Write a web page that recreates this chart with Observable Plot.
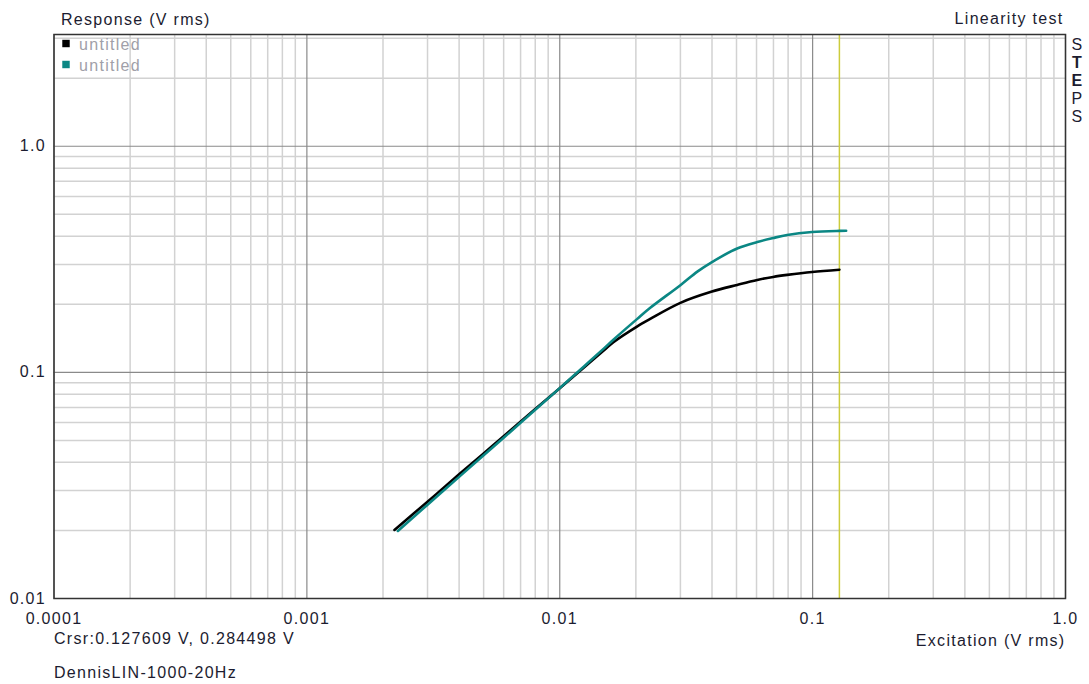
<!DOCTYPE html>
<html>
<head>
<meta charset="utf-8">
<script src="https://cdn.jsdelivr.net/npm/d3@7"></script>
<script src="https://cdn.jsdelivr.net/npm/@observablehq/plot@0.6"></script>
<style>
  html, body { margin: 0; padding: 0; background: #fff; }
  #chart svg { display: block; }
</style>
</head>
<body>
<div id="chart"></div>
<script>
// ---- data ----
const blackX = [0.00222, 0.003, 0.004, 0.005, 0.006, 0.008, 0.010, 0.0125, 0.015, 0.0163, 0.0202, 0.0228, 0.0300, 0.0397, 0.0503, 0.0604, 0.0698, 0.0793, 0.0995, 0.1276];
const blackY = [0.0201, 0.0268, 0.0354, 0.0438, 0.0522, 0.0688, 0.085, 0.1053, 0.1255, 0.136, 0.1595, 0.1725, 0.203, 0.227, 0.2437, 0.2564, 0.2643, 0.2698, 0.2781, 0.2845];
const tealX  = [0.00229, 0.003, 0.004, 0.005, 0.006, 0.008, 0.010, 0.0125, 0.015, 0.0163, 0.0202, 0.0228, 0.0300, 0.0350, 0.0397, 0.0503, 0.0604, 0.0698, 0.0793, 0.0995, 0.1276, 0.1357];
const tealY  = [0.0199, 0.0260, 0.0345, 0.0430, 0.0514, 0.0683, 0.0852, 0.1065, 0.128, 0.1395, 0.172, 0.193, 0.243, 0.279, 0.306, 0.353, 0.3771, 0.3927, 0.405, 0.4175, 0.4225, 0.423];
const seriesNames = ["untitled", "untitled"];
const seriesColors = ["#000000", "#0b8784"];
const cursorX = 0.127609;
const cursorY = 0.284498;

const xTickValues = [0.0001, 0.001, 0.01, 0.1, 1];
const xTickLabels = ["0.0001", "0.001", "0.01", "0.1", "1.0"];
const yTickValues = [0.01, 0.1, 1];
const yTickLabels = ["0.01", "0.1", "1.0"];

const title = "Linearity test";
const yTitle = "Response (V rms)";
const xTitle = "Excitation (V rms)";
const cursorText = "Crsr:0.127609 V, 0.284498 V";
const fileText = "DennisLIN-1000-20Hz";
const sideLetters = ["S", "T", "E", "P", "S"];

// ---- grid ticks ----
function minorTicks(lo, hi) {
  const out = [];
  for (let d = lo; d < hi * 0.999; d *= 10)
    for (let k = 2; k <= 9; k++) out.push(d * k);
  return out;
}
const xMinor = minorTicks(0.0001, 1);
const yMinor = minorTicks(0.01, 10).filter(v => v <= 3.05);

const black = blackX.map((x, i) => ({x, y: blackY[i]}));
const teal = tealX.map((x, i) => ({x, y: tealY[i]}));

const xLabelOf = new Map(xTickValues.map((v, i) => [v, xTickLabels[i]]));
const yLabelOf = new Map(yTickValues.map((v, i) => [v, yTickLabels[i]]));

const font = "'Liberation Sans', Arial, sans-serif";
const txt = "#1c1c30";
const fs = 16;

const letterMarks = sideLetters.map((s, i) =>
  Plot.text([s], {frameAnchor: "top-right", dx: 12, dy: 10 + i * 18.2, textAnchor: "middle", lineAnchor: "middle", fill: txt, fontSize: fs, fontWeight: (i === 1 || i === 2) ? "bold" : "normal"})
);
const legendMarks = seriesNames.flatMap((name, i) => [
  Plot.dot([name], {frameAnchor: "top-left", dx: 12, dy: 9 + i * 21, symbol: "square", r: 4.2, fill: seriesColors[i], stroke: null}),
  Plot.text([name], {frameAnchor: "top-left", dx: 25, dy: 10 + i * 21, textAnchor: "start", lineAnchor: "middle", fill: "#a0a0a8", fontSize: fs})
]);

const plot = Plot.plot({
  width: 1089,
  height: 684,
  marginLeft: 53.5,
  marginRight: 24,
  marginTop: 34,
  marginBottom: 86,
  style: {fontFamily: font, fontSize: fs + "px", background: "#fff", letterSpacing: "1.3px"},
  x: {type: "log", domain: [0.0001, 1]},
  y: {type: "log", domain: [0.01, 3.12]},
  marks: [
    Plot.ruleX(xMinor, {stroke: "#d2d2d2", strokeWidth: 1.5}),
    Plot.ruleY(yMinor, {stroke: "#d2d2d2", strokeWidth: 1.5}),
    Plot.ruleX(xTickValues, {stroke: "#8a8a8a", strokeWidth: 1.2}),
    Plot.ruleY(yTickValues, {stroke: "#8a8a8a", strokeWidth: 1.2}),
    Plot.ruleX([cursorX], {stroke: "#cccc3c", strokeWidth: 1.5}),
    Plot.line(black, {x: "x", y: "y", stroke: seriesColors[0], strokeWidth: 2.6, curve: "catmull-rom"}),
    Plot.line(teal, {x: "x", y: "y", stroke: seriesColors[1], strokeWidth: 2.6, curve: "catmull-rom"}),
    Plot.frame({stroke: "#333", strokeWidth: 1.5}),
    Plot.axisX({ticks: xTickValues, tickSize: 0, tickPadding: 14, tickFormat: d => xLabelOf.get(d), label: null, fill: txt, fontSize: fs}),
    Plot.axisY({ticks: yTickValues, tickSize: 0, tickPadding: 8, tickFormat: d => yLabelOf.get(d), label: null, fill: txt, fontSize: fs}),
    // titles
    Plot.text([yTitle], {frameAnchor: "top-left", dx: 7, dy: -15, textAnchor: "start", lineAnchor: "middle", fill: txt, fontSize: fs}),
    Plot.text([title], {frameAnchor: "top-right", dx: -2, dy: -16, textAnchor: "end", lineAnchor: "middle", fill: txt, fontSize: fs}),
    ...letterMarks,
    Plot.text([xTitle], {frameAnchor: "bottom-right", dx: 0, dy: 42, textAnchor: "end", lineAnchor: "middle", fill: txt, fontSize: fs}),
    Plot.text([cursorText], {frameAnchor: "bottom-left", dx: 0, dy: 40, textAnchor: "start", lineAnchor: "middle", fill: txt, fontSize: fs}),
    Plot.text([fileText], {frameAnchor: "bottom-left", dx: 0, dy: 74, textAnchor: "start", lineAnchor: "middle", fill: txt, fontSize: fs}),
    ...legendMarks
  ]
});
document.getElementById("chart").appendChild(plot);
</script>
</body>
</html>
